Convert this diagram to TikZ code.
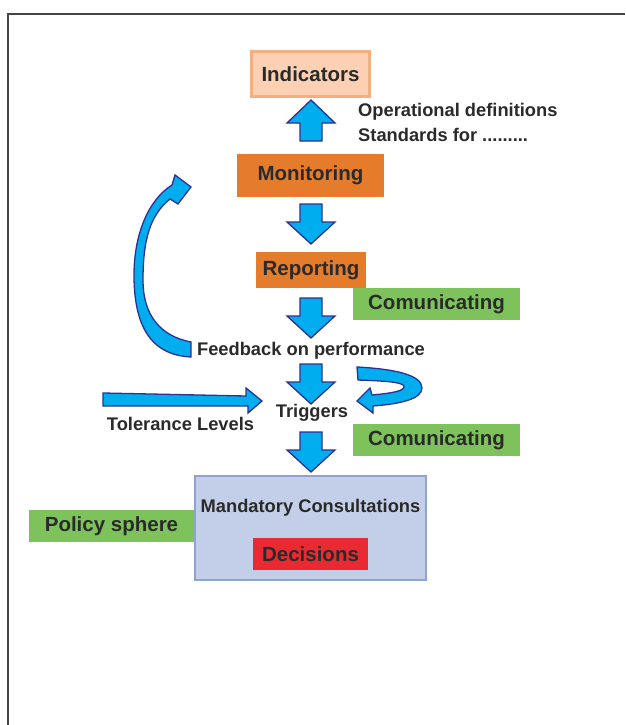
\documentclass[tikz,border=0pt]{standalone}
\usepackage{fontspec}
\setmainfont{Liberation Sans}
\definecolor{arrfill}{HTML}{00ADEF}
\definecolor{arrline}{HTML}{2E3192}
\definecolor{peachfill}{HTML}{FBD0B3}
\definecolor{peachline}{HTML}{F4AF80}
\definecolor{orng}{HTML}{E57C2C}
\definecolor{grn}{HTML}{7DC25A}
\definecolor{bluefill}{HTML}{C3CFE8}
\definecolor{blueline}{HTML}{8EA3CF}
\definecolor{redbox}{HTML}{EA2A32}
\definecolor{txt}{HTML}{2A2A2A}
\definecolor{framec}{HTML}{444444}
\newcommand\blockdown[2]{%
  \draw[blockarrow] (#1,#2) ++(-11,0) -- ++(22,0) -- ++(0,18) -- ++(13,0) -- ++(-24,22) -- ++(-24,-22) -- ++(13,0) -- cycle;}
\begin{document}
\begin{tikzpicture}[x=1pt,y=-1pt,
  blockarrow/.style={fill=arrfill, draw=arrline, line width=1.3pt, line join=miter},
  boxlab/.style={font=\bfseries\fontsize{20.5}{24}\selectfont, text=txt},
  plainlab/.style={font=\bfseries\fontsize{18.3}{22}\selectfont, text=txt, inner sep=0},
  abox/.style={rectangle, inner sep=0, boxlab},
  orangebox/.style={abox, fill=orng},
  greenbox/.style={abox, fill=grn, minimum width=167, minimum height=32},
]
\useasboundingbox (0,0) rectangle (625,725);
\fill[white] (0,0) rectangle (625,725);
% frame
\draw[framec, line width=1.3pt] (8,725) -- (8,14) -- (625,14);

% boxes
\node[abox, fill=peachfill, draw=peachline, line width=3pt, minimum width=118, minimum height=45] (ind) at (310.5,74) {Indicators};
\node[orangebox, minimum width=147, minimum height=43] (mon) at (310.5,175.5) {Monitoring};
\node[orangebox, minimum width=110, minimum height=36] (rep) at (311,270) {Reporting};
\node[greenbox] (com1) at (436.5,304) {Comunicating};
\node[greenbox] (com2) at (436.5,440) {Comunicating};
\node[greenbox, minimum width=165] (pol) at (111.5,526) {Policy sphere};
\node[abox, fill=bluefill, draw=blueline, line width=2pt, minimum width=231, minimum height=104] (mc) at (310.5,528) {};
\node[plainlab] (mctext) at (310.5,508) {Mandatory Consultations};
\node[abox, fill=redbox, minimum width=115, minimum height=32] (dec) at (310.5,554) {Decisions};

% plain labels
\node[plainlab, anchor=west] (opdef) at (358,112) {Operational definitions};
\node[plainlab, anchor=west] (std) at (358,135) {Standards for .........};
\node[plainlab] (fb) at (311,351) {Feedback on performance};
\node[plainlab] (trig) at (312,413) {Triggers};
\node[plainlab] (tol) at (180.5,424) {Tolerance Levels};

% block arrows
\draw[blockarrow] (311,100) -- ++(24,23) -- ++(-13,0) -- ++(0,18) -- ++(-22,0) -- ++(0,-18) -- ++(-13,0) -- cycle;
\blockdown{311}{204}
\blockdown{311}{298}
\blockdown{311}{364}
\blockdown{311}{432}

% tolerance arrow
\draw[blockarrow] (103,393) -- (246,396) -- (246,388) -- (262,401) -- (248,413) -- (248,406) -- (103,406) -- cycle;

% u-turn arrow
\draw[blockarrow] (357,367) .. controls (395,369) and (422,375) .. (422,388)
  .. controls (422,399) and (400,404) .. (373,406) -- (373,413) -- (357,401) -- (370,388) -- (372,395)
  .. controls (393,393) and (405,391) .. (404,386) .. controls (402,382) and (385,381) .. (358,380) -- cycle;

% feedback curved arrow
\draw[blockarrow] (191,357) -- (191,342)
  .. controls (160,336) and (143,315) .. (143,280)
  .. controls (143,240) and (150,215) .. (170,199)
  -- (178,204) -- (191,187) -- (175,175) -- (172,185)
  .. controls (148,200) and (134,235) .. (134,275)
  .. controls (134,325) and (150,355) .. (191,357) -- cycle;
\end{tikzpicture}
\end{document}
